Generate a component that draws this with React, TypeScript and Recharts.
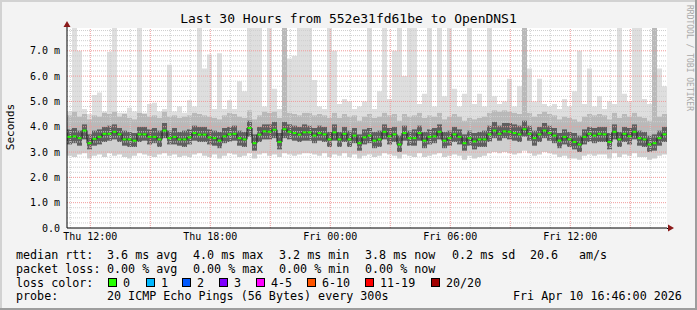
import React from "react";
import {
  ComposedChart,
  Area,
  Line,
  XAxis,
  YAxis,
  CartesianGrid,
  ReferenceLine,
} from "recharts";

// 15 minute steps, hours counted from Thu 00:00
const START = 10.835;
const STEP = 0.25;

const med = [
  3.60, 3.62, 3.55, 3.85, 3.35, 3.52, 3.60, 3.72, 3.72, 3.80, 3.70, 3.50, 3.50, 3.45, 3.70, 3.70, 3.60, 3.60, 3.50, 3.85, 3.55, 3.60, 3.50, 3.50,
  3.58, 3.75, 3.69, 3.69, 3.58, 3.55, 3.45, 3.62, 3.70, 3.72, 3.55, 3.50, 3.95, 3.35, 3.69, 3.82, 3.80, 3.88, 3.40, 3.90, 3.80, 3.75, 3.69, 3.78,
  3.78, 3.65, 3.75, 3.70, 3.50, 3.78, 3.50, 3.72, 3.50, 3.65, 3.35, 3.58, 3.65, 3.45, 3.50, 3.80, 3.62, 3.70, 3.30, 3.75, 3.55, 3.55, 3.75, 3.45,
  3.60, 3.62, 3.80, 3.45, 3.55, 3.70, 3.60, 3.35, 3.55, 3.42, 3.50, 3.50, 3.70, 3.85, 3.72, 3.82, 3.80, 3.75, 3.70, 3.90, 3.72, 3.55, 3.70, 3.85,
  3.75, 3.65, 3.45, 3.60, 3.50, 3.40, 3.30, 3.60, 3.72, 3.65, 3.72, 3.70, 3.40, 3.80, 3.50, 3.72, 3.62, 3.80, 3.55, 3.50, 3.30, 3.35, 3.55, 3.70,
];

const lo = [
  2.85, 2.80, 2.90, 2.95, 2.75, 2.85, 2.90, 2.80, 2.95, 2.85, 2.90, 2.80, 2.75, 2.85, 2.95, 2.90, 2.85, 2.80, 2.90, 2.95, 2.85, 2.90, 2.80, 2.85,
  2.80, 2.90, 2.95, 2.85, 2.80, 2.90, 2.75, 2.85, 2.95, 2.90, 2.80, 2.85, 2.95, 2.75, 2.90, 2.95, 2.85, 2.90, 2.80, 2.95, 2.90, 2.85, 2.90, 2.95,
  2.95, 2.90, 2.85, 2.95, 2.80, 2.90, 2.85, 2.95, 2.80, 2.90, 2.75, 2.85, 2.90, 2.80, 2.85, 2.95, 2.90, 2.85, 2.75, 2.90, 2.85, 2.80, 2.95, 2.80,
  2.85, 2.90, 2.95, 2.80, 2.85, 2.90, 2.85, 2.70, 2.85, 2.75, 2.80, 2.85, 2.95, 3.00, 2.95, 3.00, 2.95, 2.90, 2.95, 3.05, 2.95, 2.85, 2.90, 3.00,
  2.95, 2.90, 2.80, 2.85, 2.75, 2.75, 2.70, 2.85, 2.90, 2.85, 2.90, 2.90, 2.75, 2.95, 2.80, 2.90, 2.85, 2.95, 2.80, 2.80, 2.70, 2.75, 2.85, 2.90,
];

const q1 = [
  3.30, 3.35, 3.25, 3.50, 3.10, 3.25, 3.30, 3.40, 3.45, 3.50, 3.40, 3.25, 3.20, 3.20, 3.40, 3.45, 3.30, 3.35, 3.20, 3.55, 3.30, 3.30, 3.25, 3.20,
  3.30, 3.45, 3.40, 3.40, 3.30, 3.25, 3.15, 3.35, 3.40, 3.45, 3.25, 3.20, 3.60, 3.05, 3.40, 3.50, 3.50, 3.55, 3.10, 3.55, 3.50, 3.45, 3.40, 3.45,
  3.45, 3.35, 3.45, 3.40, 3.20, 3.45, 3.20, 3.40, 3.20, 3.35, 3.05, 3.30, 3.35, 3.15, 3.20, 3.50, 3.30, 3.40, 3.00, 3.45, 3.25, 3.25, 3.45, 3.15,
  3.30, 3.35, 3.50, 3.15, 3.25, 3.40, 3.30, 3.05, 3.25, 3.10, 3.20, 3.20, 3.40, 3.55, 3.45, 3.55, 3.50, 3.45, 3.40, 3.60, 3.45, 3.25, 3.40, 3.55,
  3.45, 3.35, 3.15, 3.30, 3.20, 3.10, 3.00, 3.30, 3.40, 3.35, 3.40, 3.40, 3.10, 3.50, 3.20, 3.40, 3.30, 3.50, 3.25, 3.20, 3.00, 3.05, 3.25, 3.40,
];

const q3 = [
  3.90, 3.95, 3.85, 4.10, 3.70, 3.85, 3.90, 4.00, 4.05, 4.10, 3.95, 3.85, 3.80, 3.75, 4.00, 4.00, 3.90, 3.95, 3.85, 4.15, 3.85, 3.95, 3.80, 3.85,
  3.90, 4.05, 4.00, 4.00, 3.90, 3.85, 3.80, 3.95, 4.00, 4.05, 3.85, 3.80, 4.25, 3.70, 4.00, 4.10, 4.10, 4.20, 3.75, 4.20, 4.10, 4.05, 4.00, 4.10,
  4.05, 3.95, 4.05, 4.00, 3.80, 4.10, 3.80, 4.00, 3.85, 3.95, 3.70, 3.90, 3.95, 3.80, 3.85, 4.10, 3.95, 4.00, 3.65, 4.05, 3.85, 3.90, 4.05, 3.80,
  3.90, 3.95, 4.10, 3.80, 3.85, 4.00, 3.90, 3.70, 3.85, 3.75, 3.80, 3.85, 4.05, 4.20, 4.05, 4.15, 4.15, 4.10, 4.05, 4.25, 4.05, 3.85, 4.00, 4.15,
  4.05, 3.95, 3.75, 3.90, 3.80, 3.75, 3.65, 3.90, 4.00, 3.95, 4.00, 4.00, 3.75, 4.10, 3.80, 4.00, 3.95, 4.10, 3.85, 3.80, 3.65, 3.70, 3.85, 4.00,
];

const hi = [
  4.45, 4.60, 4.40, 4.50, 4.30, 4.45, 4.40, 4.55, 4.50, 4.60, 4.40, 4.50, 4.35, 4.30, 4.55, 4.50, 4.40, 4.45, 4.35, 4.60, 4.40, 4.45, 4.35, 4.40,
  4.45, 4.55, 4.50, 4.45, 4.40, 4.35, 4.30, 4.45, 4.55, 4.50, 4.40, 4.35, 4.65, 4.30, 4.45, 4.60, 4.55, 4.60, 4.35, 7.90, 4.55, 4.50, 4.45, 4.55,
  4.55, 4.45, 4.50, 4.45, 4.35, 4.55, 4.35, 4.50, 4.40, 4.45, 4.25, 4.40, 4.50, 4.35, 4.40, 4.55, 4.45, 4.50, 4.25, 4.50, 4.40, 4.45, 4.55, 4.35,
  4.45, 4.40, 4.55, 4.30, 4.40, 4.50, 4.40, 4.25, 4.35, 4.30, 4.35, 4.40, 4.55, 4.65, 4.60, 4.65, 4.60, 4.55, 4.50, 7.90, 4.55, 4.40, 4.50, 4.60,
  4.50, 4.45, 4.30, 4.40, 4.35, 4.30, 4.20, 4.40, 4.50, 4.45, 4.50, 4.45, 4.30, 4.55, 4.35, 4.50, 4.40, 4.55, 4.40, 4.35, 4.25, 7.90, 4.40, 4.50,
];

const max = [
  4.60, 7.90, 7.00, 4.70, 4.50, 5.25, 5.35, 4.60, 6.95, 7.90, 4.55, 4.55, 4.75, 4.60, 7.90, 4.55, 4.90, 4.95, 4.60, 4.70, 6.45, 4.60, 4.80, 4.55,
  5.05, 4.80, 7.90, 6.30, 6.85, 4.70, 6.90, 4.70, 5.05, 4.70, 5.80, 5.40, 7.90, 7.90, 7.90, 4.80, 7.90, 5.50, 4.70, 7.90, 6.70, 6.80, 7.90, 7.90,
  7.90, 5.85, 4.80, 4.70, 7.90, 7.00, 4.90, 5.10, 5.00, 4.70, 4.80, 5.00, 7.90, 4.70, 5.40, 7.90, 5.10, 7.00, 7.90, 6.00, 7.90, 7.90, 4.90, 5.30,
  7.90, 4.80, 7.90, 5.20, 7.90, 5.50, 4.80, 5.30, 7.90, 4.90, 5.30, 4.80, 7.90, 5.20, 4.90, 5.00, 5.90, 4.80, 5.60, 7.90, 6.30, 5.00, 5.90, 4.90,
  4.80, 4.90, 4.70, 5.10, 4.80, 5.40, 7.00, 4.90, 6.30, 4.80, 5.20, 4.70, 5.00, 4.90, 7.90, 5.30, 5.00, 7.90, 7.90, 5.10, 4.90, 7.90, 6.30, 5.60,
];

const timeLabels: Record<number, string> = {
  12: "Thu 12:00",
  18: "Thu 18:00",
  24: "Fri 00:00",
  30: "Fri 06:00",
  36: "Fri 12:00",
};
const majorHours = [12, 15, 18, 21, 24, 27, 30, 33, 36, 39];
const minorHours = [11, 13, 14, 16, 17, 19, 20, 22, 23, 25, 26, 28, 29, 31, 32, 34, 35, 37, 38, 40];
const majorValues = [1, 2, 3, 4, 5, 6, 7];

const lossColors = [
  { label: "0", color: "#26ff00", box: 108 },
  { label: "1", color: "#00b8ff", box: 146 },
  { label: "2", color: "#0059ff", box: 182 },
  { label: "3", color: "#7e00ff", box: 219 },
  { label: "4-5", color: "#ff00ff", box: 256 },
  { label: "6-10", color: "#ff5500", box: 307 },
  { label: "11-19", color: "#ff0000", box: 365 },
  { label: "20/20", color: "#a10000", box: 431 },
];

const rttLegend = [
  { text: "median rtt:", x: 16 },
  { text: "3.6 ms avg", x: 107 },
  { text: "4.0 ms max", x: 193 },
  { text: "3.2 ms min", x: 279 },
  { text: "3.8 ms now", x: 365 },
  { text: "0.2 ms sd", x: 452 },
  { text: "20.6", x: 530 },
  { text: "am/s", x: 579 },
];
const lossLegend = [
  { text: "packet loss:", x: 16 },
  { text: "0.00 % avg", x: 107 },
  { text: "0.00 % max", x: 193 },
  { text: "0.00 % min", x: 279 },
  { text: "0.00 % now", x: 365 },
];
const probeLegend = [
  { text: "probe:", x: 16 },
  { text: "20 ICMP Echo Pings (56 Bytes) every 300s", x: 107 },
  { text: "Fri Apr 10 16:46:00 2026", x: 513 },
];

const minorValues: number[] = [];
for (let k = 1; k < 40; k++) if (k % 5 !== 0) minorValues.push(k / 5);

const rows = med.map((m, i) => ({
  t: START + i * STEP,
  med: m,
  low: [lo[i], q1[i]],
  core: [q1[i], q3[i]],
  up: [q3[i], hi[i]],
  spike: [hi[i], max[i]],
}));
const lastRow = rows[rows.length - 1];
rows.push({ ...lastRow, t: START + rows.length * STEP });

const MONO = "'DejaVu Sans Mono', monospace";

const Dash = (props: any) => {
  const { cx, cy, index } = props;
  if (index >= med.length || cx == null) return <g key={index} />;
  return <rect key={index} x={cx + 0.5} y={cy - 1} width={4} height={2} fill="#26ff00" />;
};

const textRow = (items: { text: string; x: number }[], cy: number) =>
  items.map((it) => (
    <div
      key={it.text + it.x}
      style={{ position: "absolute", left: it.x, top: cy - 7, lineHeight: "14px", whiteSpace: "pre" }}
    >
      {it.text}
    </div>
  ));

export default function App() {
  return (
    <div
      style={{
        position: "absolute",
        left: 0,
        top: 0,
        width: 697,
        height: 310,
        background: "#f3f3f3",
        fontFamily: MONO,
        fontSize: 11.7,
        color: "#000",
        overflow: "hidden",
      }}
    >
      <ComposedChart
        width={697}
        height={310}
        data={rows}
        margin={{ top: 28, right: 30, bottom: 52, left: 0 }}
      >
        <CartesianGrid fill="#ffffff" horizontal={false} vertical={false} />
        <XAxis
          dataKey="t"
          type="number"
          domain={[START, START + 30]}
          ticks={[12, 18, 24, 30, 36]}
          tickFormatter={(v: number) => timeLabels[v] ?? ""}
          height={30}
          tickLine={false}
          tickSize={0}
          tickMargin={5}
          axisLine={{ stroke: "#000" }}
          tick={{ fontFamily: MONO, fontSize: 10, fill: "#000" }}
          allowDataOverflow
        />
        <YAxis
          type="number"
          domain={[0, 7.9]}
          ticks={[0, 1, 2, 3, 4, 5, 6, 7]}
          tickFormatter={(v: number) => (v === 0 ? "0.0" : `${v.toFixed(1)} m`)}
          width={67}
          tickLine={false}
          tickSize={0}
          tickMargin={7}
          axisLine={{ stroke: "#000" }}
          tick={{ fontFamily: MONO, fontSize: 10, fill: "#000" }}
          allowDataOverflow
        />
        <Area dataKey="spike" type="stepAfter" stroke="none" fill="#dedede" fillOpacity={1} isAnimationActive={false} activeDot={false} />
        <Area dataKey="up" type="stepAfter" stroke="none" fill="#b9b9b9" fillOpacity={1} isAnimationActive={false} activeDot={false} />
        <Area dataKey="low" type="stepAfter" stroke="none" fill="#cfcfcf" fillOpacity={1} isAnimationActive={false} activeDot={false} />
        <Area dataKey="core" type="stepAfter" stroke="none" fill="#5f5f5f" fillOpacity={1} isAnimationActive={false} activeDot={false} />
        {minorValues.map((v) => (
          <ReferenceLine key={"mv" + v} y={v} stroke="#cfcfcf" strokeDasharray="1 1" />
        ))}
        {minorHours.map((h) => (
          <ReferenceLine key={"mh" + h} x={h} stroke="#cfcfcf" strokeDasharray="1 1" />
        ))}
        {majorValues.map((v) => (
          <ReferenceLine key={"Mv" + v} y={v} stroke="#f09a9a" strokeDasharray="1 1" />
        ))}
        {majorHours.map((h) => (
          <ReferenceLine key={"Mh" + h} x={h} stroke="#f09a9a" strokeDasharray="1 1" />
        ))}
        <Line dataKey="med" type="stepAfter" stroke="#1c1c1c" strokeWidth={1} dot={false} activeDot={false} isAnimationActive={false} />
        <Line dataKey="med" type="stepAfter" stroke="none" dot={Dash} activeDot={false} isAnimationActive={false} />
      </ComposedChart>

      <svg
        width={697}
        height={310}
        style={{ position: "absolute", left: 0, top: 0, pointerEvents: "none" }}
      >
        <line x1={67} y1={28} x2={67} y2={24} stroke="#000" />
        <polygon points="63.5,27 70.5,27 67,21" fill="#8b1a1a" />
        <line x1={667} y1={228.5} x2={670} y2={228.5} stroke="#000" />
        <polygon points="668,224.5 668,231.5 674,228" fill="#8b1a1a" />
        <line x1={0} y1={1} x2={697} y2={1} stroke="#d2d2d2" strokeWidth={2} />
        <line x1={1} y1={0} x2={1} y2={310} stroke="#d2d2d2" strokeWidth={2} />
        <line x1={0} y1={309} x2={697} y2={309} stroke="#9d9d9d" strokeWidth={2} />
        <line x1={696} y1={0} x2={696} y2={310} stroke="#9d9d9d" strokeWidth={2} />
        <text
          x={10}
          y={127}
          transform="rotate(-90 10 127)"
          textAnchor="middle"
          dominantBaseline="central"
          fontFamily={MONO}
          fontSize={11}
          fill="#000"
        >
          Seconds
        </text>
        <text
          x={689}
          y={58}
          transform="rotate(90 689 58)"
          textAnchor="middle"
          dominantBaseline="central"
          fontFamily={MONO}
          fontSize={8}
          fill="#a8a8a8"
        >
          RRDTOOL / TOBI OETIKER
        </text>
      </svg>

      <div
        style={{
          position: "absolute",
          left: 0,
          top: 11,
          width: 697,
          textAlign: "center",
          fontSize: 13,
          lineHeight: "16px",
          whiteSpace: "pre",
        }}
      >
        Last 30 Hours from 552e31fd61be to OpenDNS1
      </div>

      {textRow(rttLegend, 255)}
      {textRow(lossLegend, 268.5)}
      {textRow([{ text: "loss color:", x: 16 }], 282.5)}
      {lossColors.map((c) => (
        <React.Fragment key={c.label}>
          <div
            style={{
              position: "absolute",
              left: c.box,
              top: 278,
              width: 7,
              height: 7,
              background: c.color,
              border: "1px solid #000",
            }}
          />
          <div style={{ position: "absolute", left: c.box + 15, top: 275.5, lineHeight: "14px" }}>
            {c.label}
          </div>
        </React.Fragment>
      ))}
      {textRow(probeLegend, 296)}
    </div>
  );
}
